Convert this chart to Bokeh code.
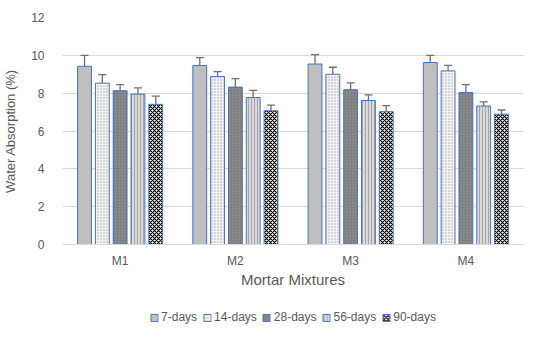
from bokeh.plotting import figure
from bokeh.layouts import column
from bokeh.models import ColumnDataSource, Whisker, TeeHead, Legend, LegendItem, Range1d, FixedTicker
from bokeh.transform import dodge
from bokeh.embed import file_html
from bokeh.resources import INLINE

mixtures = ["M1", "M2", "M3", "M4"]
ages = ["7-days", "14-days", "28-days", "56-days", "90-days"]
vals_7 = [9.42, 9.46, 9.54, 9.62]
vals_14 = [8.53, 8.88, 9.00, 9.18]
vals_28 = [8.13, 8.32, 8.18, 8.03]
vals_56 = [7.95, 7.77, 7.61, 7.32]
vals_90 = [7.41, 7.07, 7.02, 6.89]
err_7 = [0.58, 0.42, 0.50, 0.38]
err_14 = [0.45, 0.26, 0.37, 0.29]
err_28 = [0.32, 0.45, 0.36, 0.42]
err_56 = [0.33, 0.38, 0.30, 0.22]
err_90 = [0.43, 0.30, 0.32, 0.22]
y_ticks = [0, 2, 4, 6, 8, 10, 12]

series = [vals_7, vals_14, vals_28, vals_56, vals_90]
errors = [err_7, err_14, err_28, err_56, err_90]

styles = [
    dict(fill_color="#bfbfbf"),
    dict(fill_color="#f4f4f4", hatch_pattern="dot", hatch_color="#a6a6a6", hatch_scale=3, hatch_weight=1),
    dict(fill_color="#7f7f7f", hatch_pattern="dot", hatch_color="#9a9a9a", hatch_scale=3, hatch_weight=1),
    dict(fill_color="#d9d9d9", hatch_pattern="vertical_line", hatch_color="#a6a6a6", hatch_scale=3, hatch_weight=1),
    dict(fill_color="#ffffff", hatch_pattern="diagonal_cross", hatch_color="#000000", hatch_scale=4, hatch_weight=1.2),
]

TEXT = "#595959"
FONT = "Liberation Sans"
W = 534

p = figure(x_range=mixtures, y_range=Range1d(0, 12), width=W, height=290,
           output_backend="svg", toolbar_location=None,
           min_border_left=56, min_border_right=11, min_border_top=17, min_border_bottom=46)
p.outline_line_color = None

# legend strip: its y range lies far above the data, so its bars stay out of view
lg = figure(width=W, height=46, x_range=mixtures, y_range=Range1d(100, 101),
            output_backend="svg", toolbar_location=None,
            min_border_left=0, min_border_right=0, min_border_top=8, min_border_bottom=0)
lg.axis.visible = False
lg.grid.visible = False
lg.outline_line_color = None

pitch = 0.1545
offsets = [-2 * pitch, -pitch, 0, pitch, 2 * pitch]
items = []
for i, (name, vals, errs) in enumerate(zip(ages, series, errors)):
    src = ColumnDataSource(dict(
        x=mixtures, top=vals,
        upper=[v + e for v, e in zip(vals, errs)],
        lower=[v - e for v, e in zip(vals, errs)],
    ))
    p.vbar(x=dodge("x", offsets[i], range=p.x_range), top="top", width=0.12, source=src,
           line_color="#4472c4", line_width=1, **styles[i])
    w = Whisker(base=dodge("x", offsets[i], range=p.x_range), upper="upper", lower="lower", source=src,
                line_color="#707070", line_width=1.3,
                upper_head=TeeHead(size=8, line_color="#707070", line_width=1.3),
                lower_head=TeeHead(size=8, line_color="#707070", line_width=1.3))
    p.add_layout(w)
    r = lg.vbar(x=dodge("x", offsets[i], range=lg.x_range), top="top", width=0.12, source=src,
                line_color="#4472c4", line_width=1, **styles[i])
    items.append(LegendItem(label=name, renderers=[r]))

p.yaxis.ticker = FixedTicker(ticks=y_ticks)
p.yaxis.axis_line_color = None
p.yaxis.major_tick_line_color = None
p.yaxis.minor_tick_line_color = None
p.yaxis.major_label_text_color = TEXT
p.yaxis.major_label_text_font = FONT
p.yaxis.major_label_text_font_size = "12px"
p.yaxis.major_label_standoff = 12
p.yaxis.axis_label = "Water Absorption (%)"
p.yaxis.axis_label_text_color = TEXT
p.yaxis.axis_label_text_font = FONT
p.yaxis.axis_label_text_font_size = "13px"
p.yaxis.axis_label_text_font_style = "normal"
p.yaxis.axis_label_standoff = 10

p.xaxis.axis_line_color = "#d9d9d9"
p.xaxis.major_tick_line_color = None
p.xaxis.minor_tick_line_color = None
p.xaxis.major_label_text_color = TEXT
p.xaxis.major_label_text_font = FONT
p.xaxis.major_label_text_font_size = "12px"
p.xaxis.major_label_standoff = 3
p.xaxis.axis_label = "Mortar Mixtures"
p.xaxis.axis_label_text_color = TEXT
p.xaxis.axis_label_text_font = FONT
p.xaxis.axis_label_text_font_size = "15px"
p.xaxis.axis_label_text_font_style = "normal"
p.xaxis.axis_label_standoff = 0

p.xgrid.grid_line_color = None
p.ygrid.grid_line_color = "#d9d9d9"

legend = Legend(items=items, orientation="horizontal", location="center",
                label_text_color=TEXT, label_text_font=FONT, label_text_font_size="12px",
                glyph_width=9, glyph_height=9, label_standoff=3, spacing=5, label_height=14,
                border_line_color=None, background_fill_alpha=0, margin=0, padding=4)
lg.add_layout(legend, "center")

layout = column(p, lg, spacing=0)
open("out.html", "w").write(file_html(layout, INLINE))
